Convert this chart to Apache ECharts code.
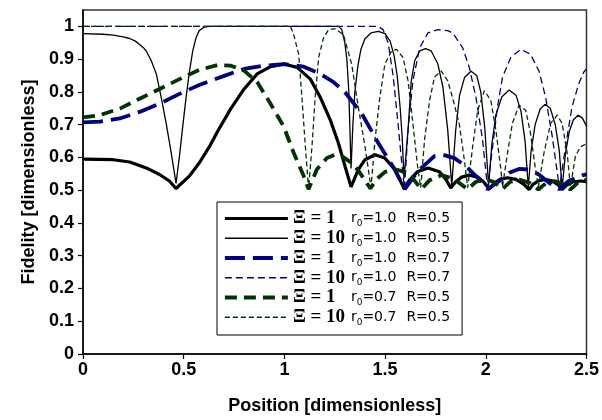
<!DOCTYPE html>
<html><head><meta charset="utf-8">
<script src="https://cdn.jsdelivr.net/npm/echarts@6/dist/echarts.min.js"></script>
<style>html,body{margin:0;padding:0;background:#fff}#c{width:602px;height:420px}</style>
</head><body><div id="c"></div>
<script>
// Ξ=1, r0=1.0, R=0.5 (thick black)
const xi1_r10_R05 = [[0,0.595],[0.15,0.593],[0.232,0.586],[0.314,0.568],[0.38,0.548],[0.429,0.528],[0.462,0.505],[0.479,0.515],[0.528,0.543],[0.577,0.583],[0.627,0.632],[0.668,0.679],[0.734,0.749],[0.80,0.809],[0.865,0.855],[0.931,0.877],[0.997,0.885],[1.063,0.875],[1.129,0.839],[1.178,0.784],[1.228,0.714],[1.268,0.644],[1.301,0.573],[1.331,0.510],[1.367,0.563],[1.40,0.593],[1.45,0.608],[1.499,0.598],[1.548,0.563],[1.594,0.506],[1.62,0.53],[1.66,0.556],[1.713,0.568],[1.77,0.556],[1.80,0.535],[1.826,0.507],[1.85,0.525],[1.88,0.54],[1.918,0.546],[1.96,0.54],[1.99,0.525],[2.017,0.503],[2.04,0.52],[2.07,0.533],[2.108,0.538],[2.15,0.533],[2.19,0.518],[2.215,0.502],[2.235,0.518],[2.26,0.528],[2.295,0.533],[2.33,0.528],[2.36,0.516],[2.379,0.502],[2.40,0.515],[2.43,0.525],[2.47,0.528],[2.5,0.526]];
// Ξ=10, r0=1.0, R=0.5 (thin black)
const xi10_r10_R05 = [[0,0.978],[0.10,0.976],[0.15,0.973],[0.20,0.968],[0.232,0.963],[0.26,0.955],[0.281,0.945],[0.30,0.935],[0.314,0.925],[0.339,0.895],[0.364,0.855],[0.388,0.784],[0.413,0.704],[0.438,0.614],[0.462,0.521],[0.479,0.604],[0.495,0.694],[0.512,0.784],[0.528,0.86],[0.545,0.925],[0.561,0.965],[0.577,0.987],[0.602,0.998],[0.627,1.0],[1.27,1.0],[1.285,0.99],[1.30,0.95],[1.31,0.90],[1.32,0.80],[1.331,0.566],[1.34,0.70],[1.35,0.80],[1.365,0.88],[1.38,0.93],[1.40,0.962],[1.43,0.98],[1.466,0.985],[1.50,0.978],[1.525,0.955],[1.545,0.91],[1.56,0.85],[1.575,0.75],[1.585,0.66],[1.594,0.536],[1.614,0.684],[1.63,0.834],[1.647,0.895],[1.672,0.925],[1.701,0.932],[1.729,0.925],[1.762,0.885],[1.787,0.815],[1.811,0.684],[1.831,0.514],[1.85,0.68],[1.87,0.79],[1.895,0.845],[1.927,0.863],[1.955,0.85],[1.975,0.80],[1.995,0.69],[2.014,0.514],[2.03,0.64],[2.05,0.73],[2.08,0.785],[2.116,0.806],[2.15,0.79],[2.175,0.74],[2.195,0.65],[2.211,0.508],[2.225,0.62],[2.245,0.70],[2.27,0.748],[2.294,0.762],[2.32,0.75],[2.345,0.70],[2.365,0.62],[2.379,0.505],[2.395,0.61],[2.415,0.68],[2.435,0.715],[2.458,0.729],[2.48,0.72],[2.5,0.695]];
// Ξ=1, r0=1.0, R=0.7 (thick blue dashed)
const xi1_r10_R07 = [[0,0.707],[0.084,0.709],[0.183,0.719],[0.281,0.739],[0.38,0.764],[0.479,0.794],[0.58,0.822],[0.701,0.849],[0.80,0.870],[0.898,0.880],[0.997,0.885],[1.096,0.877],[1.178,0.855],[1.244,0.830],[1.301,0.799],[1.384,0.734],[1.466,0.644],[1.548,0.563],[1.598,0.503],[1.663,0.558],[1.745,0.604],[1.787,0.608],[1.844,0.598],[1.902,0.573],[1.968,0.533],[2.009,0.503],[2.067,0.528],[2.116,0.553],[2.165,0.565],[2.215,0.563],[2.264,0.548],[2.313,0.523],[2.365,0.503],[2.412,0.528],[2.478,0.545],[2.5,0.548]];
// Ξ=10, r0=1.0, R=0.7 (thin blue dashed)
const xi10_r10_R07 = [[0,1.0],[1.466,1.0],[1.49,0.99],[1.515,0.95],[1.54,0.849],[1.565,0.699],[1.58,0.60],[1.596,0.505],[1.614,0.684],[1.638,0.834],[1.672,0.935],[1.713,0.980],[1.762,0.990],[1.811,0.987],[1.836,0.980],[1.885,0.935],[1.918,0.875],[1.951,0.784],[1.984,0.654],[2.009,0.505],[2.034,0.634],[2.058,0.754],[2.083,0.845],[2.124,0.905],[2.173,0.930],[2.222,0.915],[2.264,0.864],[2.297,0.784],[2.33,0.664],[2.366,0.505],[2.396,0.634],[2.428,0.754],[2.461,0.824],[2.486,0.860],[2.5,0.87]];
// Ξ=1, r0=0.7, R=0.5 (thick green dashed)
const xi1_r07_R05 = [[0,0.722],[0.084,0.729],[0.183,0.749],[0.281,0.779],[0.38,0.809],[0.479,0.839],[0.577,0.867],[0.668,0.882],[0.734,0.880],[0.80,0.865],[0.865,0.830],[0.931,0.764],[0.997,0.694],[1.046,0.614],[1.096,0.543],[1.12,0.503],[1.161,0.563],[1.211,0.598],[1.25,0.608],[1.285,0.604],[1.33,0.585],[1.367,0.560],[1.40,0.53],[1.427,0.505],[1.46,0.535],[1.50,0.556],[1.55,0.564],[1.60,0.555],[1.645,0.53],[1.68,0.503],[1.72,0.53],[1.78,0.546],[1.84,0.535],[1.91,0.503],[1.95,0.525],[1.995,0.535],[2.04,0.525],[2.083,0.503],[2.12,0.525],[2.17,0.532],[2.22,0.522],[2.261,0.502],[2.30,0.522],[2.34,0.528],[2.38,0.52],[2.42,0.502],[2.46,0.525],[2.5,0.532]];
// Ξ=10, r0=0.7, R=0.5 (thin green dashed)
const xi10_r07_R05 = [[0,1.0],[1.03,1.0],[1.046,0.975],[1.071,0.915],[1.087,0.784],[1.104,0.634],[1.12,0.503],[1.137,0.634],[1.153,0.784],[1.17,0.905],[1.194,0.965],[1.22,0.99],[1.25,0.993],[1.293,0.975],[1.334,0.885],[1.367,0.754],[1.40,0.634],[1.43,0.508],[1.45,0.654],[1.474,0.784],[1.499,0.885],[1.532,0.925],[1.557,0.930],[1.589,0.905],[1.614,0.834],[1.638,0.704],[1.663,0.563],[1.677,0.508],[1.696,0.654],[1.721,0.774],[1.745,0.845],[1.778,0.864],[1.811,0.834],[1.836,0.78],[1.869,0.70],[1.894,0.59],[1.91,0.508],[1.935,0.634],[1.96,0.744],[1.993,0.804],[2.025,0.774],[2.05,0.684],[2.075,0.563],[2.083,0.51],[2.108,0.614],[2.132,0.704],[2.165,0.759],[2.198,0.744],[2.222,0.674],[2.247,0.563],[2.261,0.51],[2.289,0.614],[2.322,0.704],[2.355,0.729],[2.379,0.704],[2.404,0.614],[2.42,0.51],[2.445,0.604],[2.47,0.632],[2.5,0.642]];

const yTicks = [0,0.1,0.2,0.3,0.4,0.5,0.6,0.7,0.8,0.9,1];
const xiLabels = ['Ξ = 1','Ξ = 10','Ξ = 1','Ξ = 10','Ξ = 1','Ξ = 10'];
const r0Labels = ['=1.0','=1.0','=1.0','=1.0','=0.7','=0.7'];
const RLabels = ['R=0.5','R=0.5','R=0.7','R=0.7','R=0.5','R=0.5'];
const seriesIds = ['s1','s2','s3','s4','s5','s6'];

const chart = echarts.init(document.getElementById('c'), null, {renderer:'canvas'});
const mk = (i, data, color, width, type) => ({
  name: seriesIds[i], type: 'line', data: data, symbol: 'none', smooth: false,
  lineStyle: {color: color, width: width, type: type}, itemStyle: {color: color},
  emphasis: {disabled: true}, z: 2
});
chart.setOption({
  animation: false,
  grid: {left: 83, right: 12.5, top: 10, bottom: 62, show: true, borderColor: '#333', borderWidth: 1.5, backgroundColor: 'transparent'},
  xAxis: {type: 'value', min: 0, max: 2.5, interval: 0.5,
    name: 'Position [dimensionless]', nameLocation: 'middle', nameGap: 43,
    nameTextStyle: {fontFamily: 'Liberation Sans', fontWeight: 'bold', fontSize: 18, color: '#000'},
    axisLine: {lineStyle: {color: '#000', width: 1.5}},
    axisTick: {length: 5, lineStyle: {color: '#000', width: 1.2}},
    axisLabel: {fontFamily: 'Liberation Sans', fontWeight: 'bold', fontSize: 18, color: '#000', margin: 7},
    splitLine: {show: false}},
  yAxis: {type: 'value', min: 0, max: 1.05, interval: 0.1,
    name: 'Fidelity [dimensionless]', nameLocation: 'middle', nameGap: 42,
    nameTextStyle: {fontFamily: 'Liberation Sans', fontWeight: 'bold', fontSize: 18, color: '#000'},
    axisLine: {lineStyle: {color: '#000', width: 1.5}},
    axisTick: {length: 5, customValues: yTicks, lineStyle: {color: '#000', width: 1.2}},
    axisLabel: {fontFamily: 'Liberation Sans', fontWeight: 'bold', fontSize: 18, color: '#000', margin: 9, customValues: yTicks,
      formatter: v => (v > 1.01 ? '' : String(Math.round(v*10)/10))},
    splitLine: {show: false}},
  legend: {
    orient: 'vertical', left: 217, top: 202, itemWidth: 63, itemHeight: 12, itemGap: 0.5,
    padding: [7, 12, 8, 6], borderColor: '#000', borderWidth: 1, backgroundColor: '#fff',
    selectedMode: false, data: seriesIds,
    itemStyle: {opacity: 0, borderWidth: 0},
    lineStyle: {width: 'inherit', type: 'inherit', color: 'inherit'},
    formatter: name => {
      const i = seriesIds.indexOf(name);
      return '{xi|' + xiLabels[i] + '}{r|r}{sub|0}{t|' + r0Labels[i] + '}{R|' + RLabels[i] + '}';
    },
    textStyle: {color: '#000', rich: {
      xi: {fontFamily: 'Liberation Serif', fontWeight: 'bold', fontSize: 19, width: 58, lineHeight: 19.5, color: '#000'},
      r: {fontFamily: 'DejaVu Sans', fontSize: 14, lineHeight: 19.5, color: '#000'},
      sub: {fontFamily: 'DejaVu Sans', fontSize: 9, lineHeight: 19.5, verticalAlign: 'bottom', color: '#000'},
      t: {fontFamily: 'DejaVu Sans', fontSize: 14, width: 44, lineHeight: 19.5, color: '#000'},
      R: {fontFamily: 'DejaVu Sans', fontSize: 14, lineHeight: 19.5, color: '#000'}
    }}
  },
  series: [
    mk(0, xi1_r10_R05, '#000000', 3.2, 'solid'),
    mk(1, xi10_r10_R05, '#000000', 1.3, 'solid'),
    mk(2, xi1_r10_R07, '#000080', 3.8, [20, 8]),
    mk(3, xi10_r10_R07, '#000080', 1.3, [7, 4]),
    mk(4, xi1_r07_R05, '#003300', 3.8, [12, 7]),
    mk(5, xi10_r07_R05, '#003300', 1.3, [5, 3])
  ]
});
</script></body></html>
